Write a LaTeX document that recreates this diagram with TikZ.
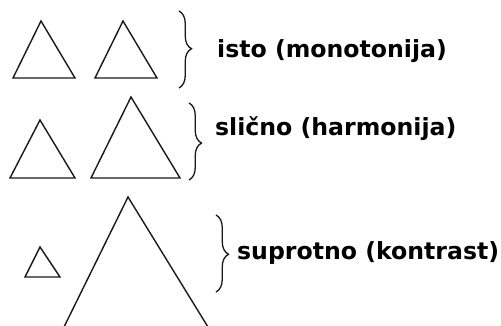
\documentclass[tikz,border=0pt]{standalone}
\usepackage{fontspec}
\setmainfont{DejaVu Sans}
\usetikzlibrary{decorations.pathreplacing}
\begin{document}
\begin{tikzpicture}[x=1pt,y=-1pt,
  tri/.style={draw=black!90,line width=1.4pt,line join=miter},
  curly/.style={draw=black!90,line width=1.3pt,decorate,decoration={brace,amplitude=12.5pt,aspect=#1}},
  curly/.default=0.5,
  lbl/.style={anchor=base west,inner sep=0pt,font=\bfseries\fontsize{23.6}{28}\selectfont}]
\useasboundingbox[fill=white] (0,0) rectangle (501,325);
% row 1 : isto
\draw[tri] (41,21) -- (75,78) -- (13,78) -- cycle;
\draw[tri] (123,21) -- (157,78) -- (95,78) -- cycle;
\coordinate (b1t) at (179,11);
\coordinate (b1b) at (179,88);
\draw[curly=0.49] (b1t) -- (b1b);
\node[lbl] (t1) at (217,57) {isto (monotonija)};
% row 2 : slicno
\draw[tri] (40,120) -- (75,178) -- (10,178) -- cycle;
\draw[tri] (131,97) -- (180,178) -- (91,178) -- cycle;
\coordinate (b2t) at (189,103);
\coordinate (b2b) at (189,180);
\draw[curly=0.52] (b2t) -- (b2b);
\node[lbl] (t2) at (215,135) {slično (harmonija)};
% row 3 : suprotno
\draw[tri] (40,247) -- (60,277) -- (25,277) -- cycle;
\begin{scope}
\clip (0,0) rectangle (501,325);
\draw[tri] (64,327) -- (128,197) -- (208,327);
\end{scope}
\coordinate (b3t) at (216,215);
\coordinate (b3b) at (216,292);
\draw[curly=0.51] (b3t) -- (b3b);
\node[lbl] (t3) at (237,259) {suprotno (kontrast)};
\end{tikzpicture}
\end{document}
